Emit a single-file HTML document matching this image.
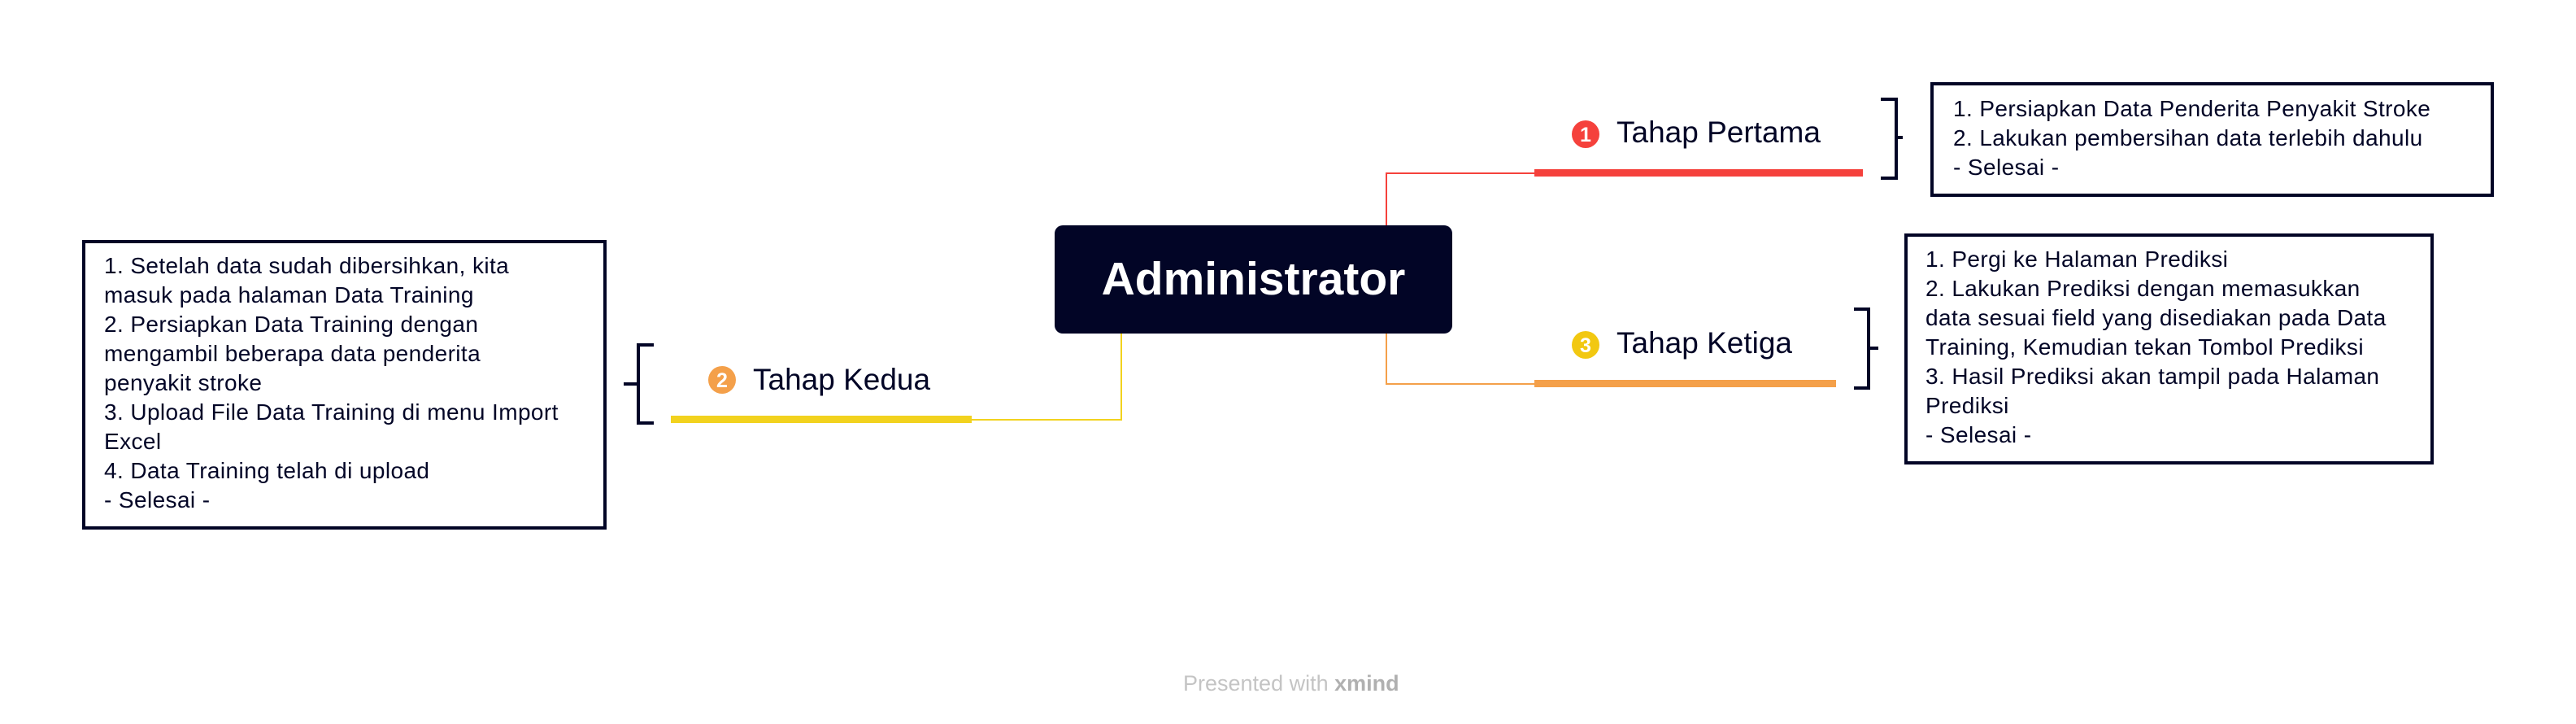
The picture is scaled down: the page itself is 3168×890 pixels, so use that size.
<!DOCTYPE html>
<html><head><meta charset="utf-8"><style>
body{margin:0;width:3168px;height:890px;background:#fff;position:relative;overflow:hidden;font-family:"Liberation Sans",sans-serif;color:#020526}
.a{position:absolute}
.box{position:absolute;border:4px solid #020526;box-sizing:border-box;background:#fff}
.t{position:absolute;font-size:28px;letter-spacing:0.4px;line-height:36px;white-space:pre;color:#020526}
</style></head><body>
<svg class="a" style="left:0;top:0" width="3168" height="890">
<g fill="none" stroke-width="2">
<polyline points="1705,277 1705,213 1887,213" stroke="#f5413c"/>
<polyline points="1705,410 1705,472 1887,472" stroke="#f4a04a"/>
<polyline points="1379,410 1379,516 1195,516" stroke="#f2d21e"/>
</g>
<rect x="1887" y="208" width="404" height="9" fill="#f5413c"/>
<rect x="1887" y="467" width="371" height="9" fill="#f4a04a"/>
<rect x="825" y="511" width="370" height="9" fill="#f2d21e"/>
<g fill="none" stroke="#020526" stroke-width="4">
<polyline points="2313,122 2332,122 2332,219 2313,219"/><line x1="2332" y1="169" x2="2340" y2="169"/>
<polyline points="2280,380 2298,380 2298,477 2280,477"/><line x1="2298" y1="428" x2="2310" y2="428"/>
<polyline points="804,424 785,424 785,520 804,520"/><line x1="785" y1="472" x2="767" y2="472"/>
</g>
<circle cx="1950" cy="165" r="17" fill="#f5413c"/>
<text x="1950" y="174" font-family="Liberation Sans" font-weight="bold" font-size="25" fill="#fff" text-anchor="middle">1</text>
<circle cx="1950" cy="424" r="17" fill="#f2c811"/>
<text x="1950" y="433" font-family="Liberation Sans" font-weight="bold" font-size="25" fill="#fff" text-anchor="middle">3</text>
<circle cx="888" cy="467" r="17" fill="#f4a04a"/>
<text x="888" y="476" font-family="Liberation Sans" font-weight="bold" font-size="25" fill="#fff" text-anchor="middle">2</text>
</svg>
<div class="a" style="left:1297px;top:277px;width:489px;height:133px;background:#020526;border-radius:10px;color:#fff;font-size:57px;font-weight:bold;text-align:center;line-height:133px">Administrator</div>
<div class="a" style="left:1988px;top:140px;font-size:37px;line-height:46px">Tahap Pertama</div>
<div class="a" style="left:1988px;top:399px;font-size:37px;line-height:46px">Tahap Ketiga</div>
<div class="a" style="left:926px;top:444px;font-size:37px;line-height:46px">Tahap Kedua</div>
<div class="box" style="left:2374px;top:101px;width:693px;height:141px"></div>
<div class="t" style="left:2402px;top:116px">1. Persiapkan Data Penderita Penyakit Stroke
2. Lakukan pembersihan data terlebih dahulu
- Selesai -</div>
<div class="box" style="left:2342px;top:287px;width:651px;height:284px"></div>
<div class="t" style="left:2368px;top:301px">1. Pergi ke Halaman Prediksi
2. Lakukan Prediksi dengan memasukkan
data sesuai field yang disediakan pada Data
Training, Kemudian tekan Tombol Prediksi
3. Hasil Prediksi akan tampil pada Halaman
Prediksi
- Selesai -</div>
<div class="box" style="left:101px;top:295px;width:645px;height:356px"></div>
<div class="t" style="left:128px;top:309px">1. Setelah data sudah dibersihkan, kita
masuk pada halaman Data Training
2. Persiapkan Data Training dengan
mengambil beberapa data penderita
penyakit stroke
3. Upload File Data Training di menu Import
Excel
4. Data Training telah di upload
- Selesai -</div>
<div class="a" style="left:1455px;top:825px;font-size:27px;color:#c4c4c4">Presented with <b style="color:#b0b0b0">xmind</b></div>
</body></html>
